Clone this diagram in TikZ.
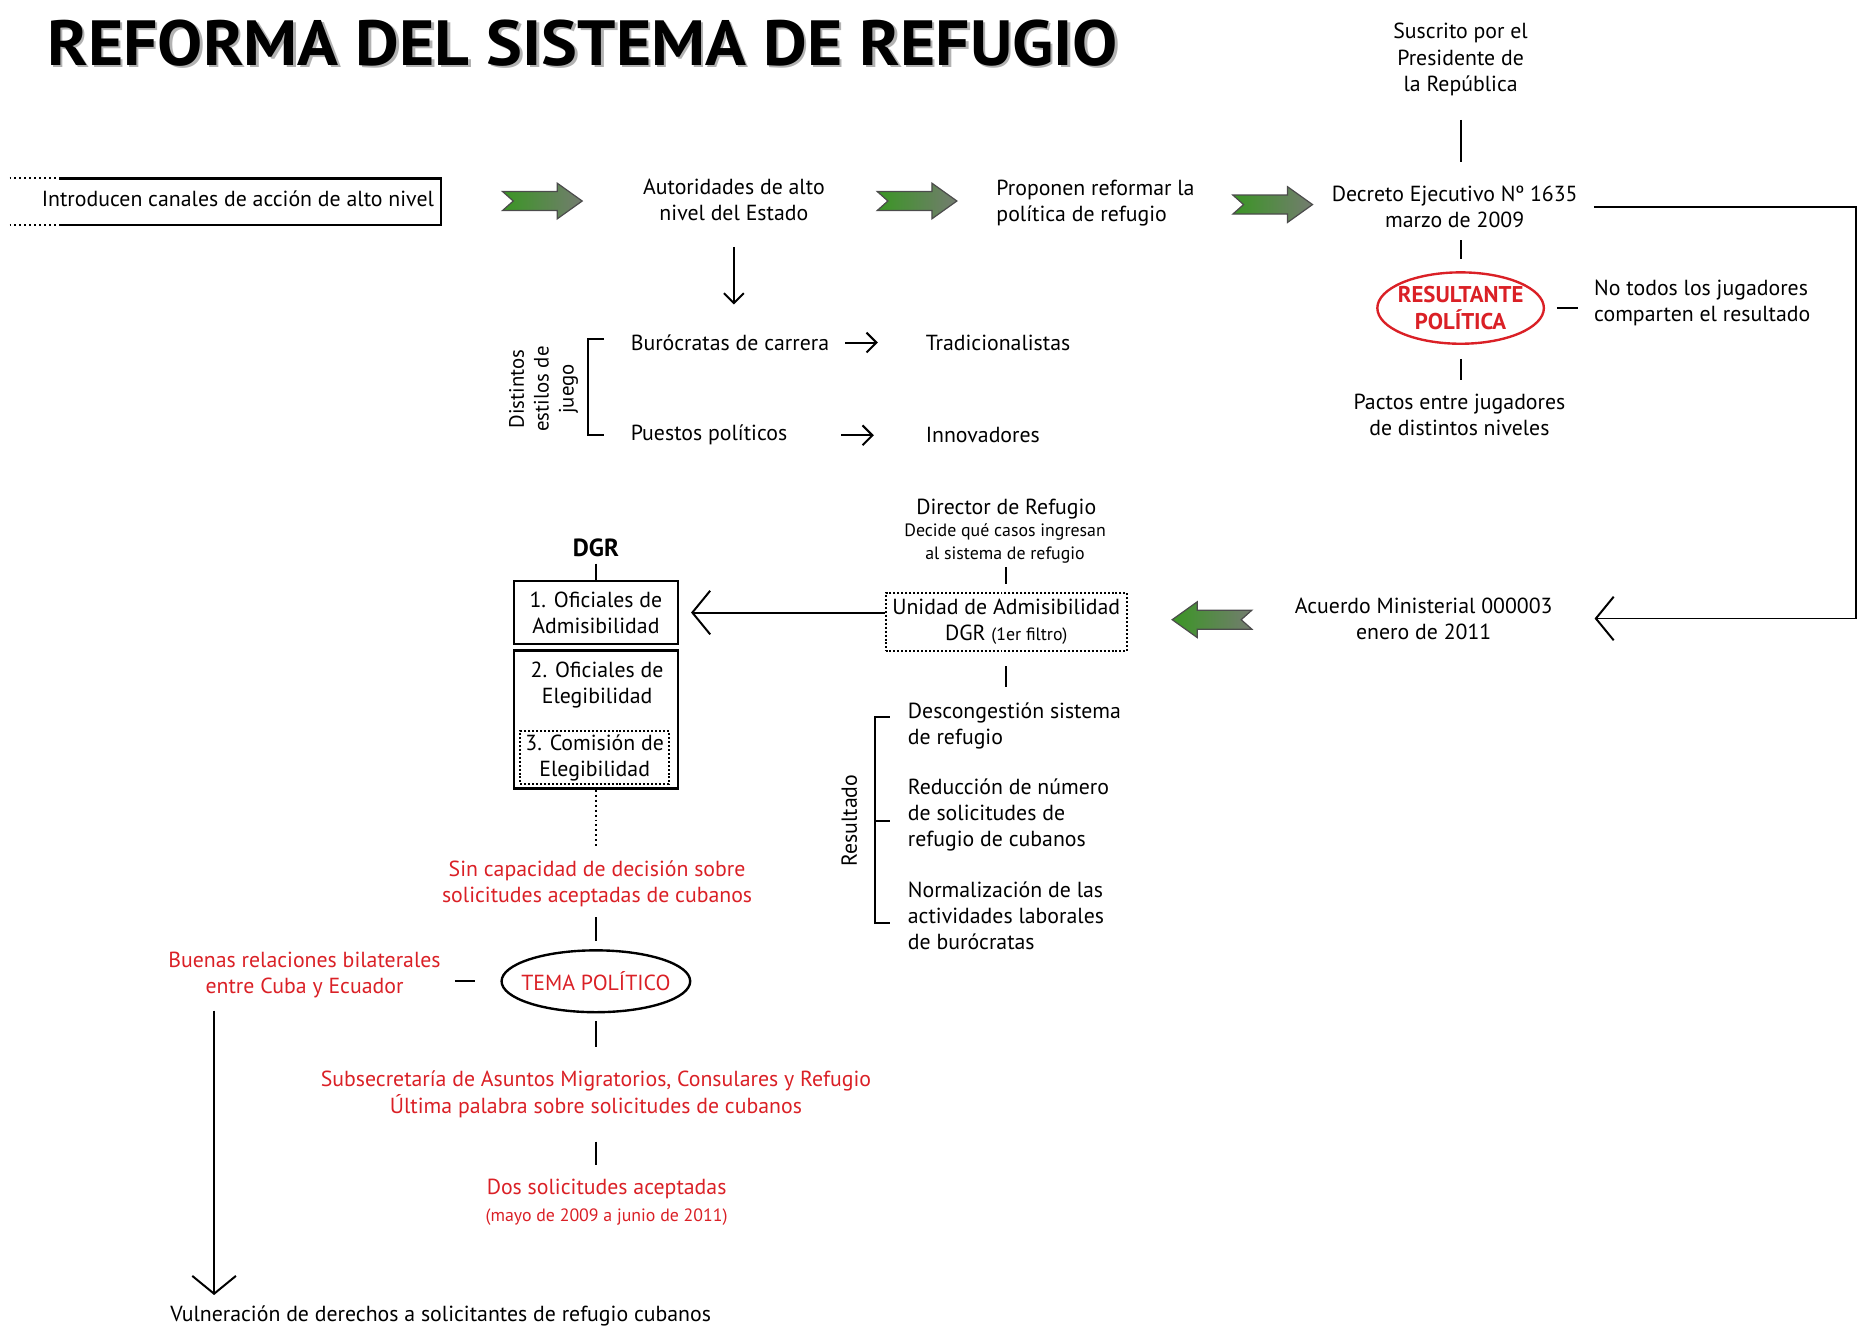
\documentclass[tikz,border=0pt]{standalone}
\usepackage{fontspec}
\setmainfont{PT Sans}
\usetikzlibrary{arrows.meta,shapes.geometric}

\definecolor{refred}{RGB}{218,32,38}
\definecolor{arrowgreen}{RGB}{58,150,36}
\definecolor{arrowmid}{RGB}{100,132,92}
\definecolor{arrowgray}{RGB}{116,124,112}

\tikzset{
    txt/.style={inner sep=0pt, align=center, font=\fontsize{11}{13.2}\selectfont},
    txtl/.style={txt, align=left},
    smalltxt/.style={txt, font=\fontsize{9}{11.2}\selectfont},
    redtxt/.style={txt, text=refred},
    framed/.style={txt, draw, line width=1.2pt},
    dotframe/.style={txt, draw, line width=1pt, dash pattern=on 1pt off 1pt},
    link/.style={line width=1pt},
    dotline/.style={line width=1pt, dash pattern=on 1pt off 1.5pt},
    bigtip/.style={line width=1pt, -{Straight Barb[length=9pt,width=22pt]}},
    smalltip/.style={line width=1pt, -{Straight Barb[length=5pt,width=10pt]}},
}

\begin{document}
\begin{tikzpicture}[x=0.6pt, y=-0.6pt]
    \useasboundingbox (0,0) rectangle (1568,1122);

    % notched block arrow, centre x, centre y, angle
    \def\greenarrow#1#2#3{%
        \shade[shift={(#1,#2)}, rotate=#3, left color=arrowgreen, middle color=arrowmid, right color=arrowgray,
            draw=black!70, line width=0.6pt]
            (-33.5,-8) -- (12.5,-8) -- (12.5,-15) -- (33.5,0) -- (12.5,15) -- (12.5,8) -- (-33.5,8) -- (-24.5,0) -- cycle;
    }

    % title with shadow
    \node[inner sep=0pt, text=black!30] (titleshadow) at (492,38)
        {\resizebox{540pt}{23pt}{\bfseries REFORMA DEL SISTEMA DE REFUGIO}};
    \node[inner sep=0pt] (title) at (490,36)
        {\resizebox{540pt}{23pt}{\bfseries REFORMA DEL SISTEMA DE REFUGIO}};

    % first row
    \node[txt] (intro) at (200,167) {Introducen canales de acción de alto nivel};
    \draw[line width=1.2pt] (50,150) -- (371,150) -- (371,189) -- (50,189);
    \draw[dotline] (8,150) -- (50,150) (8,189) -- (50,189);
    \greenarrow{456}{169}{0}
    \node[txt] (autoridades) at (617,168) {Autoridades de alto\\nivel del Estado};
    \greenarrow{771}{169}{0}
    \node[txtl] (proponen) at (921,171) {Proponen reformar la\\política de refugio};
    \greenarrow{1070}{172}{0}
    \node[txt] (decreto) at (1223,174) {Decreto Ejecutivo Nº 1635\\marzo de 2009};

    % decreto
    \node[txt] (suscrito) at (1228,50) {Suscrito por el\\Presidente de\\la República};
    \node[ellipse, draw=refred, line width=1.2pt, inner xsep=-3pt, inner ysep=0pt, minimum width=84pt, minimum height=36pt,
        align=center, text=refred, font=\fontsize{11.5}{13.2}\selectfont\bfseries] (resultante) at (1228,259)
        {RESULTANTE\\POLÍTICA};
    \node[txtl, anchor=west] (notodos) at (1340,255) {No todos los jugadores\\comparten el resultado};
    \node[txt] (pactos) at (1227,349) {Pactos entre jugadores\\de distintos niveles};

    \draw[link, shorten <=12pt, shorten >=12pt] (suscrito.south) -- (suscrito.south |- decreto.north);
    \draw[link, shorten <=6pt, shorten >=6pt] (resultante.north |- decreto.south) -- (resultante.north);
    \draw[link, shorten <=7pt, shorten >=7pt] (resultante.south) -- (resultante.south |- pactos.north);
    \draw[link, shorten <=6pt, shorten >=8pt] (resultante.east) -- (resultante.east -| notodos.west);

    % estilos de juego
    \draw[smalltip, shorten <=13pt] (autoridades.south) -- ++(0,70);
    \node[txt, rotate=90, font=\fontsize{10.5}{12.5}\selectfont] (estilos) at (457,327) {Distintos\\estilos de\\juego};
    \draw[link] (508,285) -| (494,366) -- (508,366);
    \node[txtl, anchor=west] (burocratas) at (530,288) {Burócratas de carrera};
    \node[txtl, anchor=west] (tradicion) at (778,288) {Tradicionalistas};
    \node[txtl, anchor=west] (puestos) at (530,366) {Puestos políticos};
    \node[txtl, anchor=west] (innova) at (778,366) {Innovadores};
    \draw[smalltip, shorten <=8pt, shorten >=24pt] (burocratas.east) -- (tradicion.west);
    \draw[smalltip, shorten <=27pt, shorten >=26pt] (puestos.east) -- (innova.west);

    % acuerdo ministerial
    \node[txt] (acuerdo) at (1197,520) {Acuerdo Ministerial 000003\\enero de 2011};
    \coordinate (loopR) at (1560,174);
    \draw[bigtip, shorten <=8pt, shorten >=21pt] (decreto.east) -- (decreto.east -| loopR) |- (acuerdo.east);
    \greenarrow{1019}{521}{180}

    \node[txt] (director) at (846,428) {Director de Refugio};
    \node[smalltxt] (decide) at (845,457) {Decide qué casos ingresan\\al sistema de refugio};
    \node[dotframe, minimum width=121.8pt, minimum height=29.4pt] (unidad) at (846,523)
        {Unidad de Admisibilidad\\DGR {\fontsize{9}{10}\selectfont(1er filtro)}};
    \draw[link, shorten <=2pt, shorten >=4pt] (unidad.north |- decide.south) -- (unidad.north);

    % resultado
    \coordinate (resTop) at (846,578);
    \draw[link, shorten <=7pt] (unidad.south) -- (resTop);
    \node[txt, rotate=90] (resultado) at (714,690) {Resultado};
    \draw[link] (748,603) -| (736,776) -- (748,776);
    \draw[link] (736,690) -- (748,690);
    \node[txtl, anchor=west] (descong) at (763,610) {Descongestión sistema\\de refugio};
    \node[txtl, anchor=west] (reduccion) at (763,685) {Reducción de número\\de solicitudes de\\refugio de cubanos};
    \node[txtl, anchor=west] (normal) at (763,770) {Normalización de las\\actividades laborales\\de burócratas};

    % DGR
    \node[txt, font=\fontsize{12.5}{14}\selectfont\bfseries] (dgr) at (501,461) {DGR};
    \node[framed, minimum width=82.8pt, minimum height=31.8pt] (ofi1) at (501,515) {1. Oficiales de\\Admisibilidad};
    \node[framed, minimum width=82.8pt, minimum height=69.6pt] (ofi2) at (501,605) {};
    \node[txt] (ofi2txt) at (502,576) {2. Oficiales de\\Elegibilidad};
    \node[dotframe, minimum width=75pt, minimum height=27pt] (comision) at (500,637) {3. Comisión de\\Elegibilidad};
    \draw[link, shorten <=3pt] (dgr.south) -- (ofi1.north);
    \draw[bigtip, shorten >=6pt] (unidad.west |- ofi1.east) -- (ofi1.east);

    % tema politico
    \node[redtxt] (sincap) at (502,743) {Sin capacidad de decisión sobre\\solicitudes aceptadas de cubanos};
    \node[ellipse, draw, line width=1.2pt, inner xsep=-4pt, inner ysep=0pt, minimum width=94.8pt, minimum height=31.2pt,
        text=refred, font=\fontsize{11}{13.2}\selectfont] (tema) at (501,825) {TEMA POLÍTICO};
    \node[redtxt] (buenas) at (256,820) {Buenas relaciones bilaterales\\entre Cuba y Ecuador};
    \node[redtxt] (subse) at (501,920) {Subsecretaría de Asuntos Migratorios, Consulares y Refugio\\Última palabra sobre solicitudes de cubanos};
    \node[redtxt] (dos) at (510,1000) {Dos solicitudes aceptadas};
    \node[smalltxt, text=refred] (mayo) at (510,1023) {(mayo de 2009 a junio de 2011)};
    \node[txtl, anchor=west] (vulnera) at (143,1106) {Vulneración de derechos a solicitantes de refugio cubanos};

    \draw[dotline, shorten >=7pt] (ofi2.south) -- (ofi2.south |- sincap.north);
    \draw[link, shorten <=5pt, shorten >=4pt] (tema.north |- sincap.south) -- (tema.north);
    \draw[link, shorten <=7pt, shorten >=13pt] (buenas.east |- tema.west) -- (tema.west);
    \draw[link, shorten <=4pt, shorten >=12pt] (tema.south) -- (tema.south |- subse.north);
    \draw[link, shorten <=12pt, shorten >=7pt] (subse.south) -- (subse.south |- dos.north);

    \coordinate (leftline) at (180,0);
    \draw[bigtip, shorten <=6pt, shorten >=5pt] (buenas.south -| leftline) -- (vulnera.north -| leftline);

\end{tikzpicture}
\end{document}
